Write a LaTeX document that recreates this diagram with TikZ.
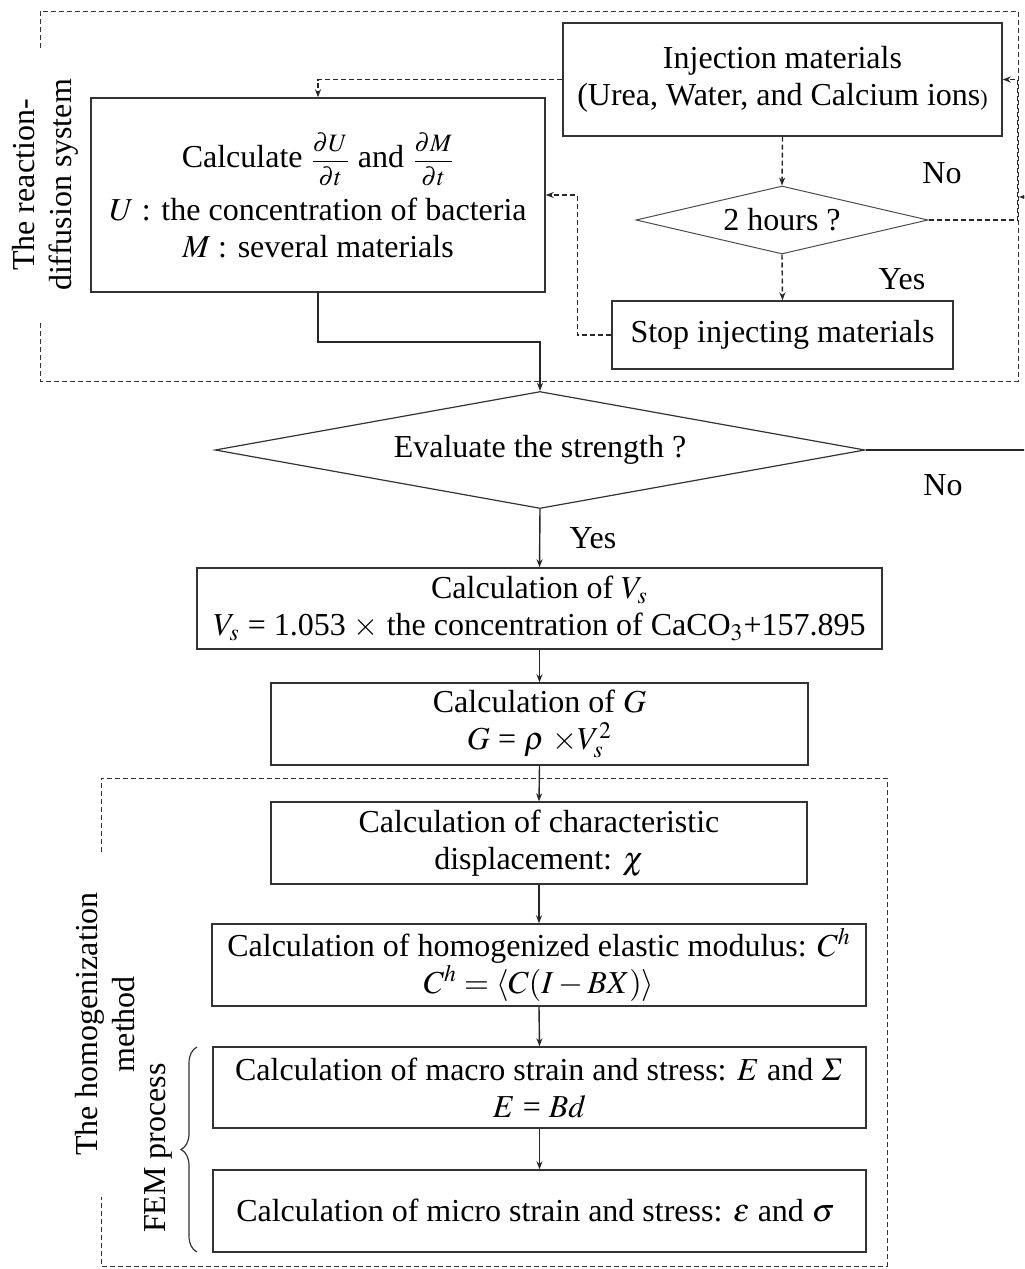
\documentclass[tikz,border=0pt]{standalone}
\usepackage{amsmath,amssymb}
\usepackage{mathptmx}
\usepackage[no-math]{fontspec}
\setmainfont{Liberation Serif}
\usetikzlibrary{positioning,arrows.meta,shapes.geometric,calc,decorations.pathreplacing}

\begin{document}
\begin{tikzpicture}[x=0.5pt, y=-0.5pt,
    boxStyle/.style={rectangle, draw=black!80, line width=0.7pt, font=\fontsize{16}{18.5}\selectfont, align=center, inner sep=2pt},
    decisionStyle/.style={diamond, draw=black!80, line width=0.6pt, font=\fontsize{16}{18.5}\selectfont, inner sep=0pt},
    labelStyle/.style={font=\fontsize{16}{18.5}\selectfont, align=center, inner sep=0pt},
    arrowStyle/.style={-{Stealth[length=4pt,width=3pt]}, line width=0.7pt, draw=black!85},
    dashArrowStyle/.style={arrowStyle, dash pattern=on 2.5pt off 1.5pt},
    frameStyle/.style={dash pattern=on 2.5pt off 1.5pt, line width=0.5pt, draw=black!80}
]
    \useasboundingbox (0,0) rectangle (1024,1269);
    \clip (0,0) rectangle (1024,1269);

    % reaction-diffusion part
    \node[boxStyle, minimum width=227pt, minimum height=97pt] (calc) at (318,195) {
        Calculate {\fontsize{12.5}{14}\selectfont$\dfrac{\partial U}{\partial t}$} and {\fontsize{12.5}{14}\selectfont$\dfrac{\partial M}{\partial t}$}\\[5pt]
        $U$ : the concentration of bacteria\\
        $M$ : several materials
    };
    \node[boxStyle, minimum width=219.5pt, minimum height=56.5pt] (inj) at (782.5,79.5) {
        Injection materials\\
        (Urea, Water, and Calcium ions{\fontsize{11}{12}\selectfont)}
    };
    \node[decisionStyle, aspect=4.3, minimum width=146pt, minimum height=34pt, draw=black!70, line width=0.5pt] (hrs) at (782,220) {2 hours ?};
    \node[boxStyle, minimum width=170.5pt, minimum height=34pt] (stop) at (782.5,335) {Stop injecting materials};

    \node[labelStyle] (noHrs) at (942,173) {No};
    \node[labelStyle] (yesHrs) at (902,279) {Yes};
    \node[labelStyle, rotate=90] (rdLabel) at (45,185) {The reaction-\\diffusion system};

    \draw[frameStyle] (40,48) -- (40,11) -- (1018,11) -- (1018,381) -- (40,381) -- (40,320);

    % strength evaluation
    \node[decisionStyle, aspect=5.56, minimum width=325pt, minimum height=58.5pt] (eval) at (540,450) {Evaluate the strength ?};
    \node[labelStyle] (noEval) at (943,485) {No};
    \node[labelStyle] (yesEval) at (593,538) {Yes};

    \node[boxStyle, minimum width=342.5pt, minimum height=40.5pt] (vs) at (539.5,608.5) {
        Calculation of $V_s$\\
        $V_s$ = 1.053 $\times$ the concentration of CaCO$_3$+157.895
    };
    \node[boxStyle, minimum width=268.5pt, minimum height=41pt] (gmod) at (539.5,724) {
        Calculation of $G$\\
        $G$ = $\rho$ $\times V_s^2$
    };

    % homogenization part
    \node[boxStyle, minimum width=268pt, minimum height=41pt] (chi) at (539,843) {
        Calculation of characteristic\\
        displacement: $\chi$
    };
    \node[boxStyle, minimum width=327pt, minimum height=41pt] (chom) at (539,965) {
        Calculation of homogenized elastic modulus: $C^h$\\
        $C^h = \langle C(I - BX)\rangle$
    };
    \node[boxStyle, minimum width=326.5pt, minimum height=40.5pt] (macro) at (539.5,1087.5) {
        Calculation of macro strain and stress: $E$ and $\varSigma$\\
        $E$ = $Bd$
    };
    \node[boxStyle, minimum width=326.5pt, minimum height=41pt] (micro) at (539.5,1211) {
        Calculation of micro strain and stress: $\varepsilon$ and $\sigma$
    };

    \node[labelStyle, rotate=90] (hmLabel) at (105,1024) {The homogenization\\method};
    \node[labelStyle, rotate=90] (femLabel) at (158,1148) {FEM process};
    \draw[decorate, decoration={brace, amplitude=8pt}, line width=0.6pt, draw=black!80] (197,1252) -- (197,1047);

    \draw[frameStyle] (101,852) -- (101,778) -- (887,778) -- (887,1266) -- (101,1266) -- (101,1197);

    % connectors
    \draw[dashArrowStyle] (inj.west) -| (calc.north);
    \draw[dashArrowStyle] (inj.south) -- (hrs.north);
    \draw[dashArrowStyle] (hrs.south) -- (stop.north);
    \draw[dashArrowStyle] (hrs.east) -- ++(89,0) |- (inj.east);
    \draw[dashArrowStyle] (stop.west) -- ++(-34,0) |- (calc.east);
    \draw[arrowStyle, line width=0.9pt] (calc.south) -- ++(0,49) -| (eval.north);

    \coordinate (offTurn) at (1040,450);
    \coordinate (rdEntry) at (1019,197);
    \draw[arrowStyle] (eval.east) -- (offTurn) |- (rdEntry);

    \draw[arrowStyle] (eval.south) -- (vs.north);
    \draw[arrowStyle] (vs.south) -- (gmod.north);
    \draw[arrowStyle] (gmod.south) -- (chi.north);
    \draw[arrowStyle] (chi.south) -- (chom.north);
    \draw[arrowStyle] (chom.south) -- (macro.north);
    \draw[arrowStyle] (macro.south) -- (micro.north);
\end{tikzpicture}
\end{document}
